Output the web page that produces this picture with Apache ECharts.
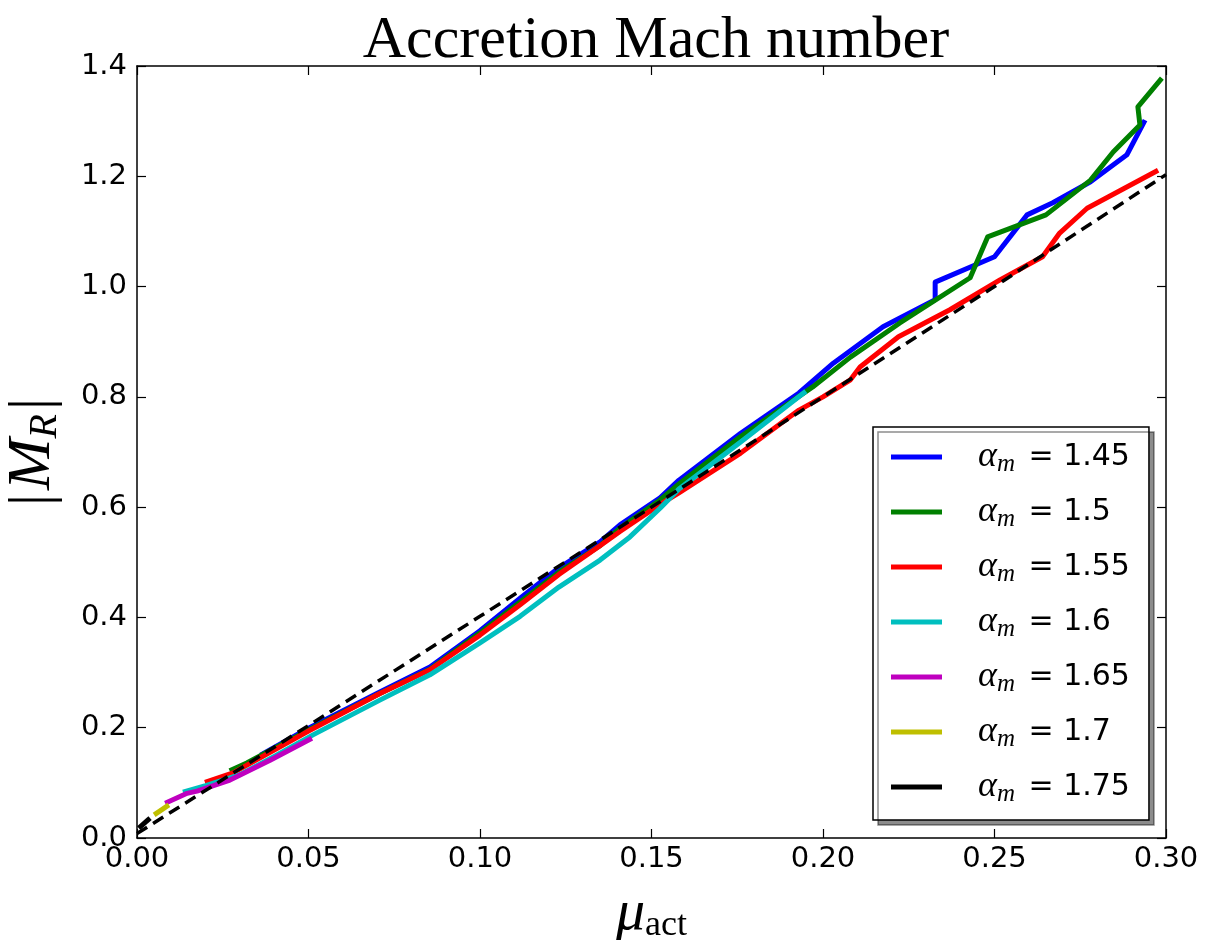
<!DOCTYPE html>
<html><head><meta charset="utf-8">
<script src="https://cdn.jsdelivr.net/npm/echarts@6/dist/echarts.min.js"></script>
<style>html,body{margin:0;padding:0;background:#fff}#c{width:1211px;height:940px}</style>
</head><body><div id="c"></div>
<script>
// ---- data ----
const titleText = 'Accretion Mach number';
const alphaLabels = ['1.45', '1.5', '1.55', '1.6', '1.65', '1.7', '1.75'];
const xTicks = [0.00, 0.05, 0.10, 0.15, 0.20, 0.25, 0.30];
const yTicks = [0.0, 0.2, 0.4, 0.6, 0.8, 1.0, 1.2, 1.4];

const mu145 = [0.036, 0.05, 0.0708, 0.0854, 0.100, 0.1117, 0.123, 0.135, 0.1408, 0.1525, 0.158, 0.176, 0.193, 0.203, 0.2175, 0.2327, 0.2327, 0.250, 0.2595, 0.267, 0.278, 0.2886, 0.2939];
const M145  = [0.150, 0.199, 0.265, 0.310, 0.376, 0.435, 0.490, 0.537, 0.568, 0.617, 0.649, 0.734, 0.807, 0.861, 0.927, 0.976, 1.008, 1.054, 1.130, 1.152, 1.190, 1.239, 1.302];

const mu150 = [0.027, 0.032, 0.05, 0.0708, 0.0854, 0.100, 0.1117, 0.123, 0.135, 0.1408, 0.1525, 0.158, 0.176, 0.197, 0.208, 0.2224, 0.2429, 0.248, 0.265, 0.278, 0.2846, 0.2924, 0.2918, 0.2988];
const M150  = [0.122, 0.136, 0.196, 0.262, 0.306, 0.372, 0.428, 0.482, 0.530, 0.562, 0.613, 0.642, 0.728, 0.818, 0.872, 0.934, 1.016, 1.090, 1.130, 1.193, 1.244, 1.293, 1.326, 1.378];

const mu155 = [0.0198, 0.028, 0.05, 0.0708, 0.0854, 0.100, 0.1117, 0.123, 0.135, 0.1408, 0.1525, 0.158, 0.176, 0.193, 0.200, 0.208, 0.2108, 0.222, 0.237, 0.2516, 0.264, 0.269, 0.277, 0.2977];
const M155  = [0.101, 0.118, 0.194, 0.262, 0.305, 0.368, 0.423, 0.478, 0.530, 0.556, 0.605, 0.626, 0.698, 0.776, 0.800, 0.831, 0.854, 0.909, 0.958, 1.012, 1.054, 1.097, 1.142, 1.211];

const mu160 = [0.0134, 0.020, 0.030, 0.040, 0.0513, 0.0708, 0.0854, 0.100, 0.1117, 0.123, 0.135, 0.1437, 0.1525, 0.158, 0.176, 0.195];
const M160  = [0.083, 0.095, 0.115, 0.148, 0.187, 0.250, 0.296, 0.354, 0.402, 0.455, 0.504, 0.546, 0.598, 0.633, 0.718, 0.810];

const mu165 = [0.0082, 0.0146, 0.0175, 0.0271, 0.0388, 0.051];
const M165  = [0.063, 0.081, 0.085, 0.105, 0.141, 0.181];

const mu170 = [0.0050, 0.0093];
const M170  = [0.042, 0.060];

const mu175 = [0.0005, 0.0038];
const M175  = [0.018, 0.036];

const muFit = [0.000, 0.050, 0.100, 0.150, 0.200, 0.250, 0.300];
const MFit  = [0.008, 0.204, 0.402, 0.600, 0.800, 1.000, 1.203];

// ---- styling ----
const colors = ['#0000ff', '#008000', '#ff0000', '#00bfbf', '#bf00bf', '#bfbf00', '#000000'];
const muSets = [mu145, mu150, mu155, mu160, mu165, mu170, mu175];
const MSets  = [M145, M150, M155, M160, M165, M170, M175];
const zip = (a, b) => a.map((v, i) => [v, b[i]]);
const seriesNames = alphaLabels.map(a => 'αm = ' + a);

const series = seriesNames.map((name, i) => ({
  name, type: 'line', data: zip(muSets[i], MSets[i]), showSymbol: false, symbol: 'none',
  lineStyle: { color: colors[i], width: 5, cap: 'butt', join: 'round' },
  itemStyle: { color: colors[i] }, z: 2 + i
}));
series.push({
  name: 'fit', type: 'line', data: zip(muFit, MFit), showSymbol: false, symbol: 'none',
  lineStyle: { color: '#000', width: 3.5, type: [12, 7] }, z: 20
});

const axisCommon = {
  axisLine: { show: true, onZero: false, lineStyle: { color: '#000', width: 1.5 } },
  axisTick: { show: true, inside: true, length: 9, lineStyle: { color: '#000', width: 1.2 } },
  splitLine: { show: false }
};
const serifMath = 'Liberation Serif';
const sans = 'DejaVu Sans';

const chart = echarts.init(document.getElementById('c'), null, { renderer: 'canvas' });
chart.setOption({
  animation: false,
  backgroundColor: '#fff',
  title: {
    text: titleText, left: 651, top: 6, textAlign: 'center',
    textStyle: { fontFamily: serifMath, fontWeight: 'normal', fontSize: 60, color: '#000' }
  },
  grid: { left: 137, right: 45, top: 66, bottom: 102, containLabel: false, outerBoundsMode: 'none' },
  xAxis: [
    Object.assign({
      type: 'value', min: xTicks[0], max: xTicks[xTicks.length - 1], interval: 0.05, position: 'bottom',
      axisLabel: { formatter: v => v.toFixed(2), fontFamily: sans, fontSize: 29, color: '#000', margin: 7 },
      name: '{mu|μ}{sub|act}', nameLocation: 'middle', nameGap: 46,
      nameTextStyle: { rich: {
        mu: { fontFamily: serifMath, fontStyle: 'italic', fontSize: 58, lineHeight: 60, verticalAlign: 'middle', color: '#000' },
        sub: { fontFamily: serifMath, fontSize: 36, lineHeight: 32, verticalAlign: 'bottom', color: '#000' }
      } }
    }, axisCommon),
    Object.assign({
      type: 'value', min: xTicks[0], max: xTicks[xTicks.length - 1], interval: 0.05, position: 'top',
      axisLabel: { show: false }
    }, axisCommon)
  ],
  yAxis: [
    Object.assign({
      type: 'value', min: yTicks[0], max: yTicks[yTicks.length - 1], interval: 0.2, position: 'left',
      axisLabel: { formatter: v => v.toFixed(1), fontFamily: sans, fontSize: 29, color: '#000', margin: 10 },
      name: '{bar||}{M|M}{sub|R}{bar2||}', nameLocation: 'middle', nameGap: 72, nameRotate: 90,
      nameTextStyle: { rich: {
        bar: { fontFamily: serifMath, fontSize: 60, lineHeight: 64, verticalAlign: 'middle', color: '#000', padding: [0, 4, 0, 0] },
        bar2: { fontFamily: serifMath, fontSize: 60, lineHeight: 64, verticalAlign: 'middle', color: '#000', padding: [0, 0, 0, 4] },
        M: { fontFamily: serifMath, fontStyle: 'italic', fontSize: 62, lineHeight: 64, verticalAlign: 'middle', color: '#000' },
        sub: { fontFamily: serifMath, fontStyle: 'italic', fontSize: 40, lineHeight: 40, verticalAlign: 'bottom', color: '#000' }
      } }
    }, axisCommon),
    Object.assign({
      type: 'value', min: yTicks[0], max: yTicks[yTicks.length - 1], interval: 0.2, position: 'right',
      axisLabel: { show: false }
    }, axisCommon)
  ],
  legend: {
    data: seriesNames, orient: 'vertical', left: 873, top: 427,
    icon: 'rect', itemWidth: 51, itemHeight: 5, itemGap: 17,
    padding: [12, 19, 13, 18],
    backgroundColor: '#fff', borderColor: '#000', borderWidth: 1.5, borderRadius: 0,
    shadowColor: 'rgba(0,0,0,0.45)', shadowBlur: 0, shadowOffsetX: 5, shadowOffsetY: 5,
    formatter: name => {
      const v = name.split('= ')[1];
      return '{a|α}{m|m}{t| = ' + v + '}';
    },
    textStyle: {
      padding: [0, 0, 0, 31],
      rich: {
        a: { fontFamily: serifMath, fontStyle: 'italic', fontSize: 36, lineHeight: 40, verticalAlign: 'middle', color: '#000' },
        m: { fontFamily: serifMath, fontStyle: 'italic', fontSize: 25, lineHeight: 22, verticalAlign: 'bottom', color: '#000' },
        t: { fontFamily: sans, fontSize: 30, lineHeight: 40, verticalAlign: 'middle', color: '#000', padding: [0, 0, 0, 4] }
      }
    }
  },
  series
});
</script></body></html>
